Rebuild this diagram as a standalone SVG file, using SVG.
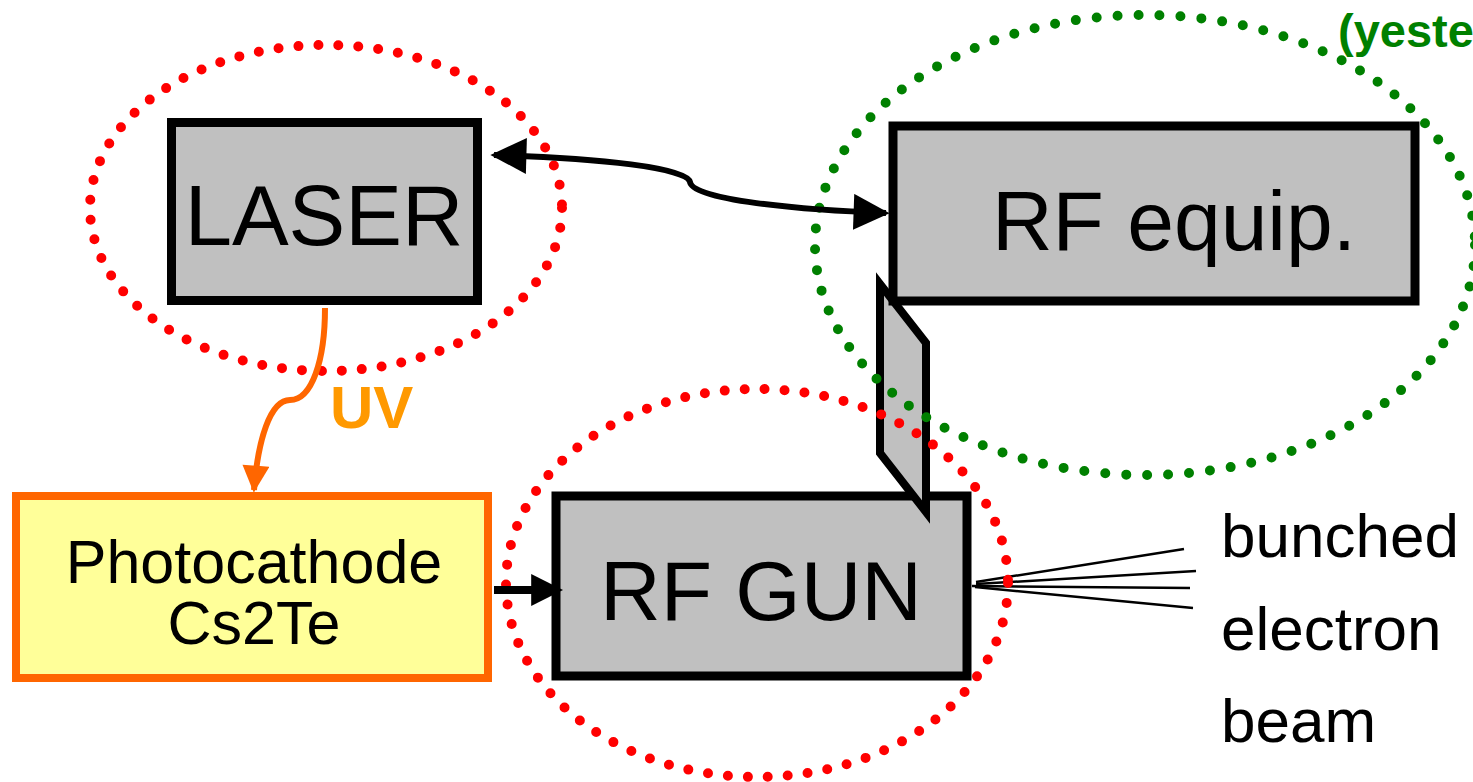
<svg xmlns="http://www.w3.org/2000/svg" width="1473" height="782" viewBox="0 0 1473 782">
<style>
.box{fill:#C0C0C0;stroke:#000;stroke-width:9}
.t{font-family:"Liberation Sans",Arial,sans-serif;fill:#000}
.red{fill:none;stroke:#FF0000;stroke-width:10;stroke-linecap:round;stroke-dasharray:0 20}
.grn{fill:none;stroke:#008000;stroke-width:10;stroke-linecap:round;stroke-dasharray:0 21}
</style>
<defs>
<marker id="ah" viewBox="0 0 10 10" refX="9" refY="5" markerWidth="7" markerHeight="6" markerUnits="strokeWidth" orient="auto-start-reverse"><path d="M0,0 L10,5 L0,10 z" fill="#000"/></marker>
<marker id="ao" viewBox="0 0 10 10" refX="9" refY="5" markerWidth="5" markerHeight="4.5" markerUnits="strokeWidth" orient="auto"><path d="M0,0 L10,5 L0,10 z" fill="#FF6600"/></marker>
<marker id="ab" viewBox="0 0 10 10" refX="9" refY="5" markerWidth="4" markerHeight="4.5" markerUnits="strokeWidth" orient="auto"><path d="M0,0 L10,5 L0,10 z" fill="#000"/></marker>
</defs>
<g id="laser"><rect class="box" x="171.5" y="122.5" width="306" height="178"/><text class="t" x="324" y="245" font-size="85" text-anchor="middle">LASER</text></g>
<g id="rfgun"><rect class="box" x="556" y="496" width="411" height="180"/><text class="t" x="761" y="620" font-size="84" text-anchor="middle">RF GUN</text></g>
<g id="waveguide"><polygon points="880,284 926,343 926,512 880,453" fill="#C0C0C0" stroke="#000" stroke-width="8" stroke-linejoin="miter"/></g>
<g id="rfequip"><rect class="box" x="893" y="126" width="522" height="175"/><text class="t" x="1174" y="250" font-size="84" text-anchor="middle">RF equip.</text></g>
<g id="photocathode"><rect x="16" y="496" width="472" height="182" fill="#FFFF99" stroke="#FF6600" stroke-width="8"/><text class="t" x="254" y="583" font-size="61" text-anchor="middle">Photocathode</text><text class="t" x="254" y="644" font-size="61" text-anchor="middle">Cs2Te</text></g>
<g id="beam"><g stroke="#000" stroke-width="2.5"><line x1="976" y1="582" x2="1184" y2="549"/><line x1="976" y1="584" x2="1196" y2="571"/><line x1="972" y1="586" x2="1190" y2="588"/><line x1="975" y1="587" x2="1193" y2="608"/></g><text class="t" x="1221" y="557" font-size="62">bunched</text><text class="t" x="1221" y="650" font-size="62">electron</text><text class="t" x="1221" y="742" font-size="62">beam</text></g>
<g id="ellipses"><ellipse class="red" cx="326" cy="208" rx="236" ry="163"/><ellipse class="red" cx="757" cy="583" rx="251" ry="194"/><ellipse class="grn" cx="1145" cy="245" rx="330" ry="230"/><text x="1338" y="47" font-family="'Liberation Sans',Arial,sans-serif" font-weight="bold" font-size="47" fill="#008000">(yeste</text></g>
<g id="connectors" fill="none">
<path d="M494,155 C600,158 688,168 690,182 C692,200 800,210 886,213" stroke="#000" stroke-width="6" marker-start="url(#ah)" marker-end="url(#ah)"/>
<path d="M325,308 C325,360 312,400 290,400 C270,400 258,440 254,490" stroke="#FF6600" stroke-width="6" marker-end="url(#ao)"/>
<line x1="494" y1="590" x2="560" y2="590" stroke="#000" stroke-width="8" marker-end="url(#ab)"/>
<text x="330" y="428" font-family="'Liberation Sans',Arial,sans-serif" font-weight="bold" font-size="60" fill="#FF9900" stroke="none">UV</text>
</g>
</svg>
